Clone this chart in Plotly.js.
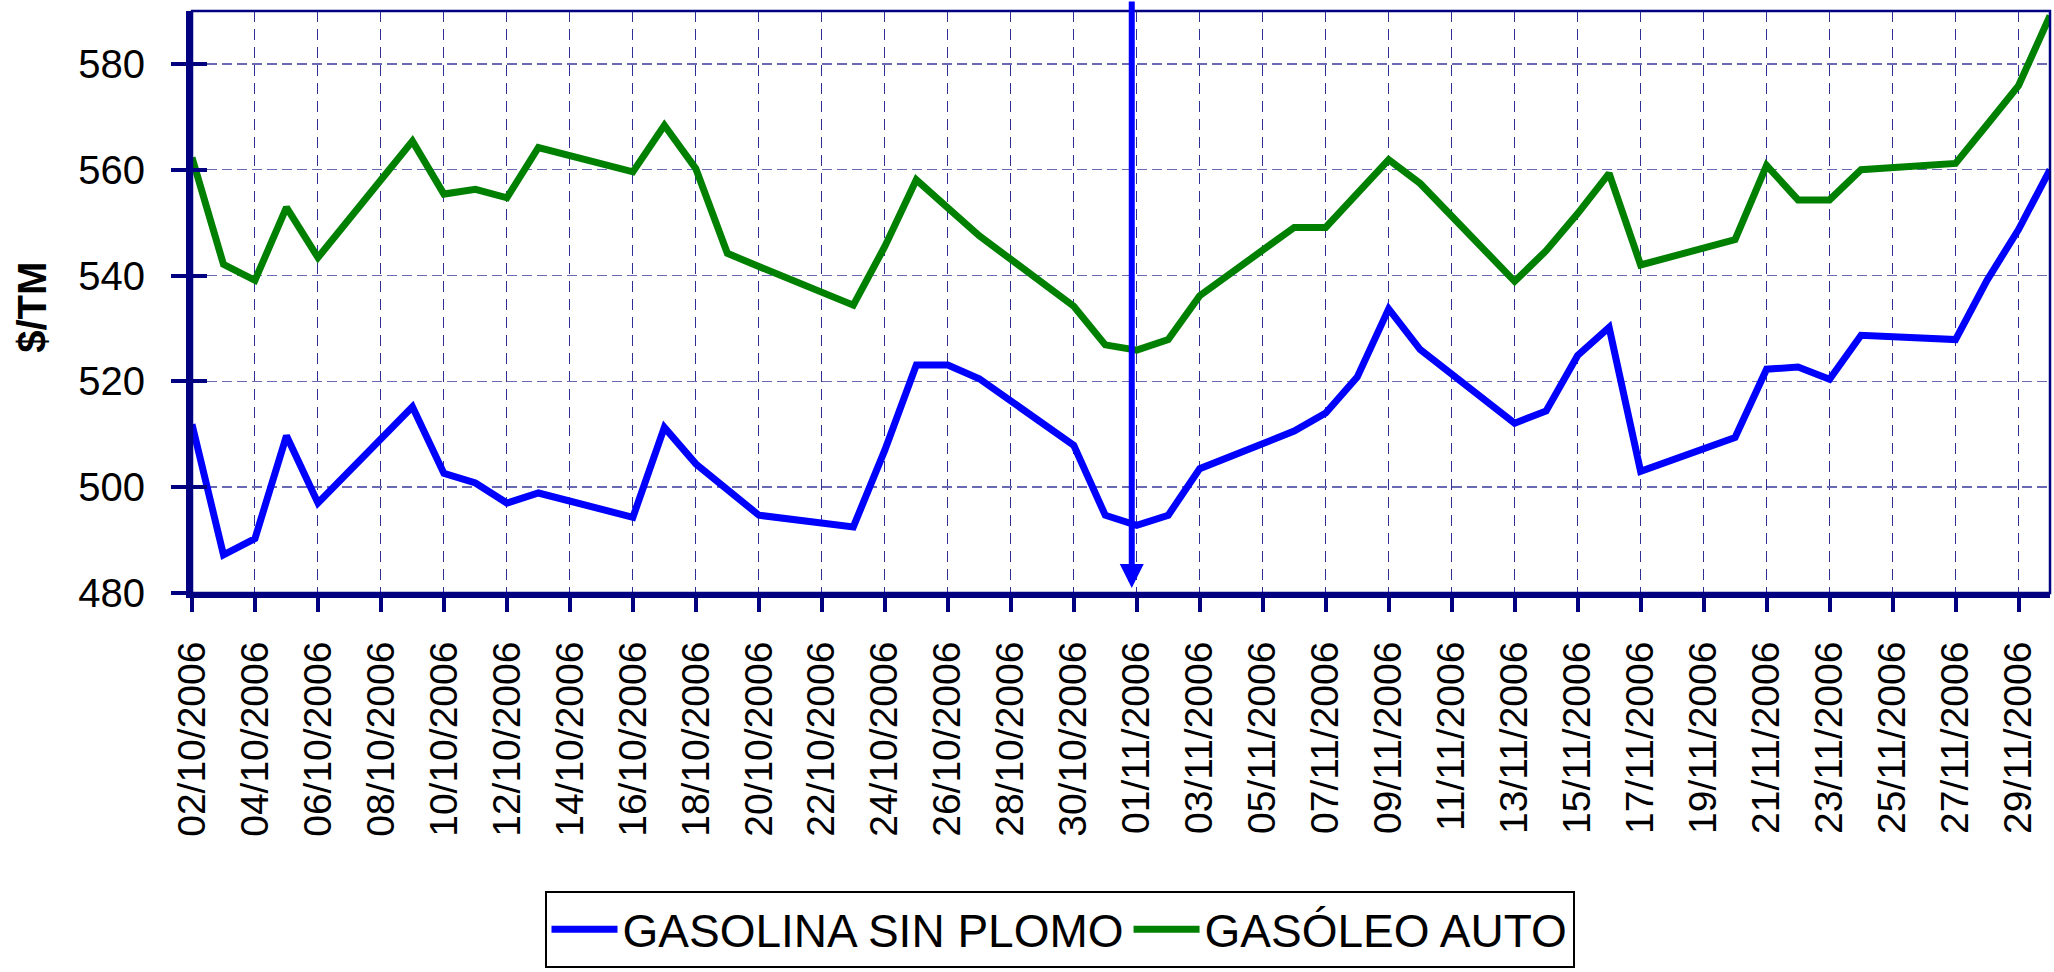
<!DOCTYPE html>
<html>
<head>
<meta charset="utf-8">
<script src="https://cdn.plot.ly/plotly-3.0.1.min.js"></script>
<style>
  html, body { margin: 0; padding: 0; background: #ffffff; }
  #chart { width: 2054px; height: 972px; }
</style>
</head>
<body>
<div id="chart"></div>
<script>
// Trading days (weekdays) of October and November 2006
const dates = [
  '2006-10-02','2006-10-03','2006-10-04','2006-10-05','2006-10-06',
  '2006-10-09','2006-10-10','2006-10-11','2006-10-12','2006-10-13',
  '2006-10-16','2006-10-17','2006-10-18','2006-10-19','2006-10-20',
  '2006-10-23','2006-10-24','2006-10-25','2006-10-26','2006-10-27',
  '2006-10-30','2006-10-31',
  '2006-11-01','2006-11-02','2006-11-03',
  '2006-11-06','2006-11-07','2006-11-08','2006-11-09','2006-11-10',
  '2006-11-13','2006-11-14','2006-11-15','2006-11-16','2006-11-17',
  '2006-11-20','2006-11-21','2006-11-22','2006-11-23','2006-11-24',
  '2006-11-27','2006-11-28','2006-11-29','2006-11-30'
];

// $/TM
const gasolinaSinPlomo = [
  511.9, 487.2, 490.3, 509.7, 497.0,
  515.2, 502.6, 500.8, 497.0, 498.9,
  494.3, 511.3, 504.4, 499.5, 494.7,
  492.5, 507.0, 523.1, 523.1, 520.5,
  507.9, 494.7,
  492.8, 494.7, 503.5,
  510.6, 514.0, 520.8, 533.7, 526.0,
  512.1, 514.4, 524.9, 530.2, 503.0,
  509.4, 522.3, 522.7, 520.4, 528.7,
  527.9, 539.1, 548.7, 560.0
];

const gasoleoAuto = [
  562.3, 542.1, 539.1, 552.9, 543.4,
  565.4, 555.4, 556.3, 554.7, 564.2,
  559.6, 568.4, 560.2, 544.2, 541.7,
  534.4, 545.5, 558.1, 552.8, 547.5,
  534.2, 526.9,
  525.9, 527.9, 536.2,
  549.1, 549.1, 555.5, 561.9, 557.4,
  538.9, 544.7, 551.7, 559.3, 542.0,
  546.8, 560.8, 554.3, 554.3, 560.0,
  561.2, 568.5, 575.9, 589.1
];

const seriesNames = ['GASOLINA SIN PLOMO', 'GASÓLEO AUTO'];
const yTitle = '$/TM';
const xRange = ['2006-10-02', '2006-11-30'];
const yRange = [480, 590];
const markerDate = '2006-11-01';

const FONT = 'Liberation Sans, Arial, sans-serif';
const NAVY = '#000080';

const traces = [
  {
    x: dates, y: gasolinaSinPlomo, name: seriesNames[0],
    type: 'scatter', mode: 'lines',
    line: { color: '#0000ff', width: 7 }
  },
  {
    x: dates, y: gasoleoAuto, name: seriesNames[1],
    type: 'scatter', mode: 'lines', yaxis: 'y2',
    line: { color: '#008000', width: 7 }
  }
];

const layout = {
  width: 2054, height: 972,
  margin: { l: 192, r: 4, t: 11, b: 367 },
  paper_bgcolor: '#ffffff',
  plot_bgcolor: '#ffffff',
  showlegend: true,
  font: { family: FONT, color: '#000000' },
  xaxis: {
    type: 'date',
    range: xRange,
    tick0: '2006-10-02',
    dtick: 2 * 86400000,
    tickformat: '%d/%m/%Y',
    tickangle: -90,
    tickfont: { family: FONT, size: 39, color: '#000000' },
    ticks: 'outside', ticklen: 14, tickwidth: 4, tickcolor: NAVY,
    ticklabelstandoff: 14,
    showline: true, linecolor: NAVY, linewidth: 5,
    showgrid: true, gridcolor: '#2e2e94', gridwidth: 1, griddash: '11px,7px',
    zeroline: false,
    automargin: false,
    fixedrange: true
  },
  yaxis: {
    range: yRange,
    tick0: 480, dtick: 20,
    tickfont: { family: FONT, size: 40, color: '#000000' },
    ticks: 'outside', ticklen: 15, tickwidth: 4, tickcolor: NAVY,
    ticklabelstandoff: 18,
    showline: true, linecolor: NAVY, linewidth: 6,
    showgrid: true, gridcolor: '#6a6ab4', gridwidth: 1.5, griddash: '10px,5px',
    zeroline: false,
    automargin: false,
    fixedrange: true
  },
  // same scale as yaxis, only used to draw the inner half of the crossing ticks
  yaxis2: {
    overlaying: 'y', side: 'left', anchor: 'x',
    range: yRange,
    tick0: 480, dtick: 20,
    ticks: 'inside', ticklen: 15, tickwidth: 4, tickcolor: NAVY,
    showticklabels: false, showgrid: false, showline: false, zeroline: false,
    automargin: false, fixedrange: true
  },
  legend: {
    orientation: 'h',
    x: 0.4669, xanchor: 'center',
    y: -0.5118, yanchor: 'top',
    bgcolor: '#ffffff',
    bordercolor: '#000000', borderwidth: 2,
    font: { family: FONT, size: 46, color: '#000000' },
    itemwidth: 66,
    tracegroupgap: 0
  },
  shapes: [
    {
      type: 'rect', xref: 'paper', yref: 'paper',
      x0: 0, x1: 1, y0: 0, y1: 1,
      line: { color: NAVY, width: 2.5 }, fillcolor: 'rgba(0,0,0,0)',
      layer: 'above'
    }
  ],
  annotations: [
    {
      text: yTitle, textangle: -90,
      xref: 'paper', yref: 'paper',
      x: -0.0861, y: 0.49, xanchor: 'center', yanchor: 'middle',
      showarrow: false,
      font: { family: FONT, size: 40, color: '#000000', weight: 'bold' }
    },
    {
      text: '',
      xref: 'x', yref: 'paper',
      x: markerDate, y: 0.0084, xshift: -5,
      showarrow: true, ax: 0, ay: -593,
      arrowcolor: '#0000ff', arrowwidth: 6, arrowhead: 2, arrowsize: 0.8,
      standoff: 0, startstandoff: 0
    }
  ]
};

Plotly.newPlot('chart', traces, layout, { staticPlot: true, displayModeBar: false });
</script>
</body>
</html>
